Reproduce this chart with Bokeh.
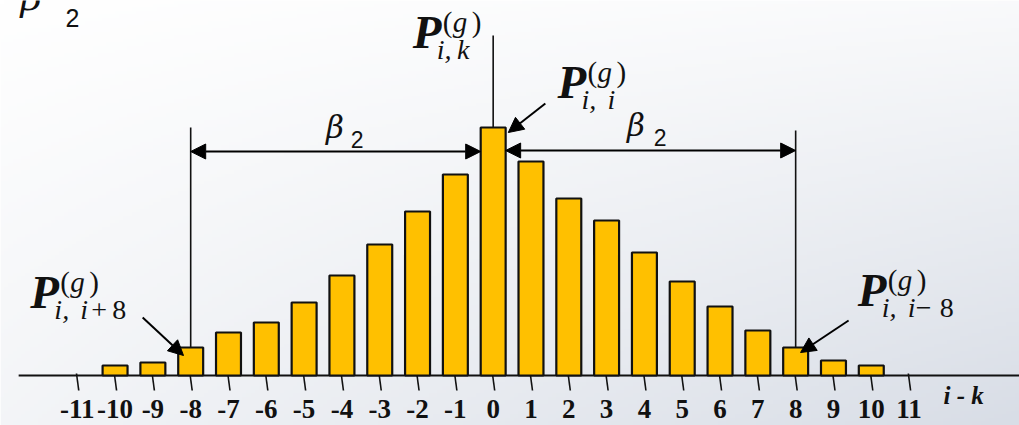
import numpy as np
from bokeh.plotting import figure
from bokeh.models import Range1d, Arrow, NormalHead
from bokeh.core.properties import value
from bokeh.embed import file_html
from bokeh.resources import INLINE

# ---- data ----
offsets = list(range(-10, 11))                      # i - k
probs = [10, 13, 28, 43, 53, 73, 100, 131, 164, 201, 248,
         214, 177, 155, 123, 94, 69, 45, 28, 15, 10]   # P_{i,k}^{(g)} (relative heights)
tick_values = list(range(-11, 12))
tick_labels = [str(t) for t in tick_values]
beta_span = 8

# ---- layout ----
W, H = 1019, 425
X0, X1 = -13.03, 13.92
Y0, Y1 = -50, 375
PX = W / (X1 - X0)          # pixels per x unit
BAR_W = 0.66
INK = "#111111"
MID = 0.34                  # baseline -> vertical middle, in em

SERIF = value("Liberation Serif")
SANS = value("Liberation Sans")
BETA_FONT = value("DejaVu Serif")

p = figure(width=W, height=H, x_range=Range1d(X0, X1), y_range=Range1d(Y0, Y1),
           output_backend="svg", toolbar_location=None, min_border=0,
           x_axis_location=None, y_axis_location=None,
           outline_line_color=None, background_fill_color="white",
           border_fill_color="white")
p.grid.visible = False

# background gradient
nx, ny = 240, 120
u = np.linspace(0, 1, nx)[None, :]
v = 1 - np.linspace(0, 1, ny)[:, None]
t = np.clip(0.15 * u + 0.30 * v + 0.55 * u * v, 0, 1)
c0 = np.array([255, 255, 255.0])
c1 = np.array([216, 221, 230.0])
rgb = c0[None, None, :] * (1 - t[..., None]) + c1[None, None, :] * t[..., None]
img = np.empty((ny, nx), dtype=np.uint32)
view = img.view(dtype=np.uint8).reshape((ny, nx, 4))
view[..., 0] = rgb[..., 0].astype(np.uint8)
view[..., 1] = rgb[..., 1].astype(np.uint8)
view[..., 2] = rgb[..., 2].astype(np.uint8)
view[..., 3] = 255
p.image_rgba(image=[img], x=X0, y=Y0, dw=X1 - X0, dh=Y1 - Y0)


def txt(x, base, s, size, style="normal", font=SERIF, align="left"):
    p.text(x=[x], y=[base + MID * size], text=[s], text_font=font,
           text_font_style=style, text_font_size=f"{size}px",
           text_align=align, text_baseline="middle", text_color=INK)


# axis line and ticks
p.segment(x0=[-12.55], y0=[0], x1=[X1 + 1], y1=[0], line_color=INK, line_width=2)
p.segment(x0=[tv - 0.02 for tv in tick_values], y0=[2] * len(tick_values),
          x1=[tv + 0.04 for tv in tick_values], y1=[-15] * len(tick_values),
          line_color=INK, line_width=1.6)
TICK_SIZE = 27
p.text(x=tick_values, y=[-43 + MID * TICK_SIZE] * len(tick_values), text=tick_labels,
       text_font=SERIF, text_font_style="bold", text_font_size=f"{TICK_SIZE}px",
       text_align="center", text_baseline="middle", text_color=INK)
txt(11.91, -28, "i - k", 25, "bold italic")

# bars
p.vbar(x=offsets, top=probs, bottom=0, width=BAR_W, fill_color="#FFC000",
       line_color=INK, line_width=2.2)

center_h = probs[offsets.index(0)]
left_h = probs[offsets.index(-beta_span)]
right_h = probs[offsets.index(beta_span)]

# vertical guide lines
p.segment(x0=[0, -beta_span, beta_span], y0=[center_h, left_h, right_h],
          x1=[0, -beta_span, beta_span], y1=[340, 248, 245],
          line_color=INK, line_width=1.6)

# dimension arrows
for xs, xe, yy in [(-beta_span, -BAR_W / 2, 224), (BAR_W / 2, beta_span, 225)]:
    p.add_layout(Arrow(start=NormalHead(size=15, fill_color="black", line_color="black"),
                       end=NormalHead(size=15, fill_color="black", line_color="black"),
                       x_start=xs, y_start=yy, x_end=xe, y_end=yy,
                       line_color="black", line_width=2))

# pointer arrows
for xs, ys, xe, ye in [(1.38, 272, 0.40, 243), (-9.27, 58, -8.19, 20), (9.40, 55, 8.13, 23)]:
    p.add_layout(Arrow(end=NormalHead(size=15, fill_color="black", line_color="black"),
                       x_start=xs, y_start=ys, x_end=xe, y_end=ye,
                       line_color="black", line_width=2))


# beta labels
def beta(x, y, bsize, sx, sy, ssize):
    txt(x, y, "β", bsize, "italic", BETA_FONT)
    txt(sx, sy, "2", ssize, "normal", SANS)


beta(-4.42, 238, 31, -3.77, 228, 23)
beta(3.54, 240, 31, 4.25, 230, 23)
beta(-12.50, 365.5, 37, -11.31, 349, 25)


# P labels
def plabel(x, y, sub, op=None, opdx=0):
    txt(x, y, "P", 47, "bold italic")
    gx = x + 30 / PX
    txt(gx, y + 16, "(", 29)
    txt(gx + 10 / PX, y + 16, "g", 29, "italic")
    txt(gx + 29 / PX, y + 16, ")", 29)
    sx = x + 24 / PX
    txt(sx, y - 12, sub, 28, "italic")
    if op:
        txt(sx + opdx / PX, y - 12, op, 28)
        txt(sx + 58 / PX, y - 12, "8", 28)


plabel(-2.13, 328, "i,\u2009k")
plabel(1.70, 278, "i,\u2009\u2009i")
plabel(-12.24, 68, "i,\u2009\u2009i", "+", 37)
plabel(9.64, 70, "i,\u2009\u2009i", "\u2212", 34)

open("out.html", "w").write(file_html(p, INLINE))
